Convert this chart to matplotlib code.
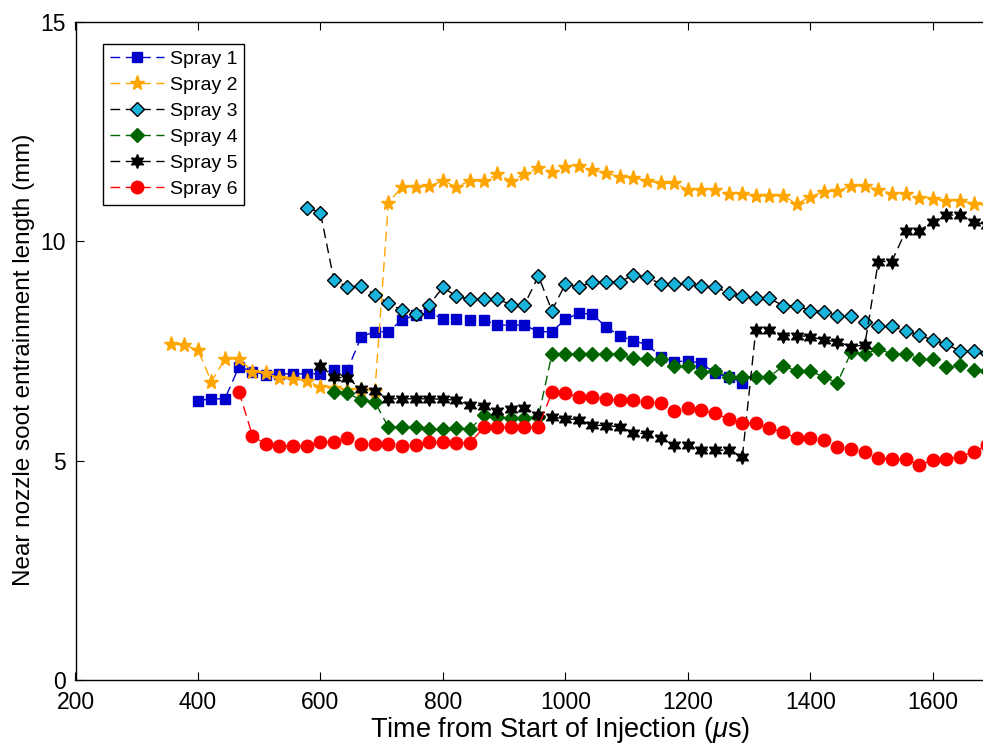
import matplotlib
matplotlib.use("Agg")
import matplotlib.pyplot as plt

plt.rcParams['font.family'] = ['Liberation Sans', 'DejaVu Sans']
plt.rcParams['mathtext.fontset'] = 'custom'
plt.rcParams['mathtext.it'] = 'Liberation Sans:italic'
plt.rcParams['mathtext.rm'] = 'Liberation Sans'

# ---------------- data ----------------
t1 = [400, 422, 444, 467, 489, 511, 533, 556, 578, 600, 622, 644, 667, 689, 711, 733, 756, 778, 800, 822,
      844, 867, 889, 911, 933, 956, 978, 1000, 1022, 1044, 1067, 1089, 1111, 1133, 1156, 1178, 1200, 1222,
      1244, 1267, 1289]
s1 = [6.37, 6.41, 6.41, 7.14, 7.03, 6.96, 6.98, 6.98, 6.98, 6.98, 7.07, 7.07, 7.83, 7.94, 7.94, 8.21, 8.32,
      8.37, 8.24, 8.22, 8.21, 8.21, 8.09, 8.09, 8.09, 7.94, 7.94, 8.22, 8.36, 8.34, 8.04, 7.85, 7.73, 7.65,
      7.37, 7.26, 7.27, 7.23, 6.99, 6.91, 6.78]

t2 = [356, 378, 400, 422, 444, 467, 489, 511, 533, 556, 578, 600, 622, 644, 667, 689, 711, 733, 756, 778,
      800, 822, 844, 867, 889, 911, 933, 956, 978, 1000, 1022, 1044, 1067, 1089, 1111, 1133, 1156, 1178, 1200,
      1222, 1244, 1267, 1289, 1311, 1333, 1356, 1378, 1400, 1422, 1444, 1467, 1489, 1511, 1533, 1556, 1578,
      1600, 1622, 1644, 1667, 1689]
s2 = [7.66, 7.64, 7.52, 6.80, 7.32, 7.32, 7.03, 7.00, 6.88, 6.86, 6.82, 6.67, 6.65, 6.62, 6.60, 6.58, 10.88,
      11.24, 11.24, 11.26, 11.38, 11.24, 11.38, 11.37, 11.53, 11.38, 11.53, 11.67, 11.57, 11.70, 11.72, 11.63,
      11.55, 11.47, 11.45, 11.38, 11.32, 11.32, 11.18, 11.18, 11.18, 11.09, 11.07, 11.04, 11.04, 11.04, 10.85,
      11.02, 11.13, 11.15, 11.26, 11.26, 11.18, 11.09, 11.07, 10.99, 10.96, 10.93, 10.93, 10.85, 10.83]

t3 = [578, 600, 622, 644, 667, 689, 711, 733, 756, 778, 800, 822, 844, 867, 889, 911, 933, 956, 978, 1000,
      1022, 1044, 1067, 1089, 1111, 1133, 1156, 1178, 1200, 1222, 1244, 1267, 1289, 1311, 1333, 1356, 1378,
      1400, 1422, 1444, 1467, 1489, 1511, 1533, 1556, 1578, 1600, 1622, 1644, 1667, 1689]
s3 = [10.77, 10.65, 9.12, 8.96, 8.98, 8.78, 8.59, 8.43, 8.34, 8.56, 8.95, 8.75, 8.68, 8.68, 8.68, 8.56, 8.55,
      9.21, 8.42, 9.03, 8.96, 9.07, 9.07, 9.08, 9.23, 9.18, 9.03, 9.03, 9.04, 8.99, 8.95, 8.83, 8.76, 8.70,
      8.70, 8.53, 8.53, 8.42, 8.40, 8.30, 8.30, 8.17, 8.06, 8.06, 7.96, 7.86, 7.75, 7.66, 7.50, 7.50, 7.45]

t4 = [622, 644, 667, 689, 711, 733, 756, 778, 800, 822, 844, 867, 889, 911, 933, 956, 978, 1000, 1022, 1044,
      1067, 1089, 1111, 1133, 1156, 1178, 1200, 1222, 1244, 1267, 1289, 1311, 1333, 1356, 1378, 1400, 1422,
      1444, 1467, 1489, 1511, 1533, 1556, 1578, 1600, 1622, 1644, 1667, 1689]
s4 = [6.57, 6.54, 6.38, 6.34, 5.76, 5.76, 5.76, 5.72, 5.72, 5.74, 5.72, 6.03, 6.00, 5.98, 5.98, 6.00, 7.43,
      7.43, 7.43, 7.43, 7.43, 7.43, 7.33, 7.31, 7.31, 7.16, 7.16, 7.03, 7.05, 6.91, 6.91, 6.91, 6.91, 7.16,
      7.04, 7.04, 6.91, 6.77, 7.48, 7.43, 7.55, 7.43, 7.43, 7.31, 7.31, 7.14, 7.18, 7.07, 7.05]

t5 = [600, 622, 644, 667, 689, 711, 733, 756, 778, 800, 822, 844, 867, 889, 911, 933, 956, 978, 1000, 1022,
      1044, 1067, 1089, 1111, 1133, 1156, 1178, 1200, 1222, 1244, 1267, 1289, 1311, 1333, 1356, 1378, 1400,
      1422, 1444, 1467, 1489, 1511, 1533, 1556, 1578, 1600, 1622, 1644, 1667, 1689]
s5 = [7.16, 6.91, 6.88, 6.63, 6.59, 6.41, 6.41, 6.41, 6.41, 6.40, 6.38, 6.27, 6.25, 6.14, 6.17, 6.20, 6.04,
      5.99, 5.96, 5.93, 5.81, 5.80, 5.77, 5.64, 5.61, 5.52, 5.36, 5.36, 5.24, 5.24, 5.24, 5.09, 7.98, 7.98,
      7.85, 7.85, 7.83, 7.75, 7.71, 7.60, 7.64, 9.54, 9.54, 10.24, 10.24, 10.45, 10.60, 10.60, 10.45, 10.37]

t6 = [467, 489, 511, 533, 556, 578, 600, 622, 644, 667, 689, 711, 733, 756, 778, 800, 822, 844, 867, 889,
      911, 933, 956, 978, 1000, 1022, 1044, 1067, 1089, 1111, 1133, 1156, 1178, 1200, 1222, 1244, 1267, 1289,
      1311, 1333, 1356, 1378, 1400, 1422, 1444, 1467, 1489, 1511, 1533, 1556, 1578, 1600, 1622, 1644, 1667,
      1689]
s6 = [6.57, 5.57, 5.37, 5.33, 5.33, 5.33, 5.42, 5.42, 5.51, 5.38, 5.38, 5.38, 5.33, 5.36, 5.42, 5.42, 5.40,
      5.40, 5.76, 5.76, 5.76, 5.76, 5.76, 6.56, 6.55, 6.44, 6.44, 6.40, 6.38, 6.38, 6.33, 6.31, 6.14, 6.19,
      6.15, 6.08, 5.95, 5.85, 5.85, 5.74, 5.65, 5.51, 5.51, 5.46, 5.32, 5.26, 5.19, 5.07, 5.03, 5.03, 4.90,
      5.01, 5.03, 5.09, 5.20, 5.36]

labels = ['Spray 1', 'Spray 2', 'Spray 3', 'Spray 4', 'Spray 5', 'Spray 6']
xticks = [200, 400, 600, 800, 1000, 1200, 1400, 1600]
yticks = [0, 5, 10, 15]

# ---------------- figure ----------------
fig = plt.figure(figsize=(9.83, 7.46), dpi=100)
ax = fig.add_axes([75.5 / 983, 66 / 746, 1 - 75.5 / 983, 658 / 746])

hexagram = (6, 1, 0)
styles = [
    dict(color='#0000CC', marker='s', ms=6.5, mfc='#0000CC', mec='#0000CC'),
    dict(color='#FFA500', marker='*', ms=11, mfc='#FFA500', mec='#FFA500'),
    dict(color='black', marker='D', ms=7.5, mfc='#19B4DC', mec='black', mew=1.0),
    dict(color='#006400', marker='D', ms=7.5, mfc='#006400', mec='#006400'),
    dict(color='black', marker=hexagram, ms=10, mfc='black', mec='black'),
    dict(color='#FF0000', marker='o', ms=9, mfc='#FF0000', mec='#FF0000'),
]
series = [(t1, s1), (t2, s2), (t3, s3), (t4, s4), (t5, s5), (t6, s6)]
for (t, s), st, lab in zip(series, styles, labels):
    ax.plot(t, s, linestyle=(0, (7, 4)), linewidth=1.0, label=lab, **st)

ax.set_xlim(200, 1682)
ax.set_ylim(0, 15)
ax.set_xticks(xticks)
ax.set_yticks(yticks)
ax.tick_params(direction='in', length=6, width=0.8, labelsize=16.5, top=True, right=False)
ax.tick_params(axis='x', pad=8)
ax.tick_params(axis='y', pad=7)
ax.spines['right'].set_visible(False)
for sp in ['left', 'top', 'bottom']:
    ax.spines[sp].set_linewidth(1.0)

ax.set_xlabel(r'Time from Start of Injection ($\mu$s)', fontsize=19.5)
ax.xaxis.set_label_coords(0.534, -0.053)
ax.set_ylabel('Near nozzle soot entrainment length (mm)', fontsize=17.5)
ax.yaxis.set_label_coords(-0.045, 0.486)

leg = ax.legend(loc='upper left', bbox_to_anchor=(0.03, 0.967), borderaxespad=0, fontsize=14,
                frameon=True, fancybox=False, framealpha=1, edgecolor='black',
                handlelength=2.8, handletextpad=0.3, labelspacing=0.43, borderpad=0.35)
leg.get_frame().set_linewidth(1.0)

fig.savefig('out.png', dpi=100)
